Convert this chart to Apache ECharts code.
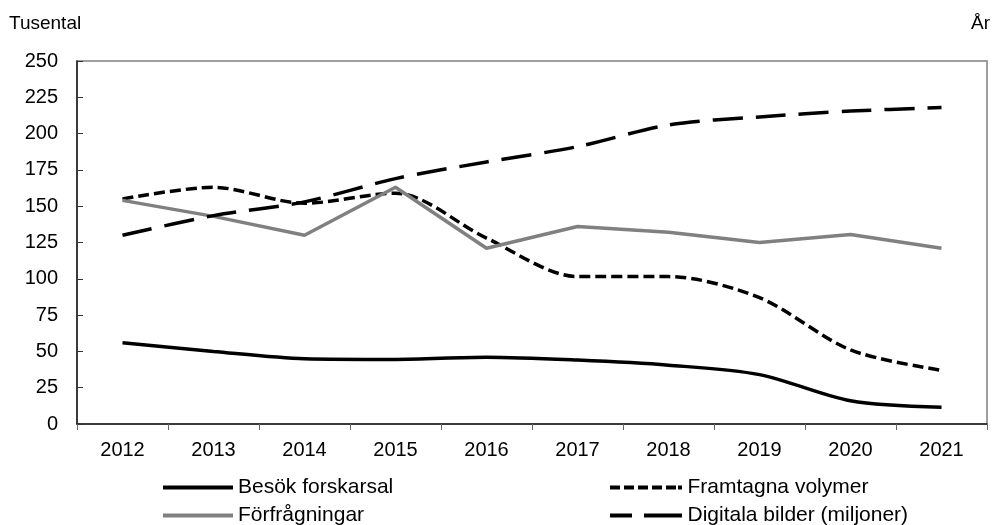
<!DOCTYPE html>
<html>
<head>
<meta charset="utf-8">
<script src="https://cdn.jsdelivr.net/npm/echarts@6/dist/echarts.min.js"></script>
<style>
html,body{margin:0;padding:0;background:#fff;}
#c{width:992px;height:525px;}
</style>
</head>
<body>
<div id="c"></div>
<script>
const years = ['2012','2013','2014','2015','2016','2017','2018','2019','2020','2021'];
const besok = [56, 50, 45, 44.5, 46, 44, 40.5, 34, 16, 11.5];
const framtagna = [155, 163, 152, 159, 128, 101.5, 101.5, 87, 51, 37];
const forfragningar = [154, 143, 130, 163, 121, 136, 132, 125, 130.5, 121];
const digitala = [130, 143.5, 153, 169, 180.5, 191, 206, 211.5, 215.5, 218];
const yTicks = [0, 25, 50, 75, 100, 125, 150, 175, 200, 225, 250];
const seriesNames = ['Besök forskarsal', 'Framtagna volymer', 'Förfrågningar', 'Digitala bilder (miljoner)'];

const FONT = 'Liberation Sans, Arial, sans-serif';
const ICON_SOLID = 'path://M0,0h72v4h-72z';
const ICON_SHORT = 'path://M0,0h10v4h-10zM14,0h10v4h-10zM28,0h10v4h-10zM42,0h10v4h-10zM56,0h10v4h-10zM68,0h4v4h-4z';
const ICON_LONG = 'path://M0,0h22v4h-22zM34,0h38v4h-38z';

function leg(name, left, top, w, icon, color) {
  return {
    data: [{name: name, icon: icon, itemStyle: {color: color}}],
    left: left, top: top, orient: 'horizontal', padding: 0,
    itemWidth: w, itemHeight: 4, itemGap: 5,
    textStyle: {fontSize: 21, fontFamily: FONT, color: '#000', lineHeight: 20}
  };
}

const chart = echarts.init(document.getElementById('c'), null, {renderer: 'canvas'});
chart.setOption({
  animation: false,
  backgroundColor: '#fff',
  textStyle: {fontFamily: FONT, color: '#000'},
  grid: {left: 77, right: 5, top: 61, bottom: 101, show: true, borderColor: '#808080', borderWidth: 1.5},
  graphic: [
    {type: 'text', left: 9, top: 14, style: {text: 'Tusental', font: '19px ' + FONT, fill: '#000'}},
    {type: 'text', right: 2, top: 14, style: {text: 'År', font: '19px ' + FONT, fill: '#000'}}
  ],
  xAxis: {
    type: 'category', data: years, boundaryGap: true,
    axisLine: {lineStyle: {color: '#1a1a1a', width: 1.5}},
    axisTick: {show: true, inside: false, length: 6, lineStyle: {color: '#666'}},
    axisLabel: {fontSize: 20, fontFamily: FONT, color: '#000', margin: 16}
  },
  yAxis: {
    type: 'value', min: yTicks[0], max: yTicks[yTicks.length - 1], interval: 25,
    axisLine: {show: true, lineStyle: {color: '#1a1a1a', width: 1.5}},
    axisTick: {show: true, inside: true, length: 6, lineStyle: {color: '#333'}},
    splitLine: {show: false},
    axisLabel: {fontSize: 20, fontFamily: FONT, color: '#000', margin: 19}
  },
  legend: [
    leg(seriesNames[0], 163, 477, 70, ICON_SOLID, '#000'),
    leg(seriesNames[2], 163, 505, 70, ICON_SOLID, '#808080'),
    leg(seriesNames[1], 610, 477, 73, ICON_SHORT, '#000'),
    leg(seriesNames[3], 610, 505, 73, ICON_LONG, '#000')
  ],
  series: [
    {name: seriesNames[0], type: 'line', data: besok, smooth: 0.3, symbol: 'none',
     lineStyle: {color: '#000', width: 3.5}, itemStyle: {color: '#000'}},
    {name: seriesNames[1], type: 'line', data: framtagna, smooth: 0.3, symbol: 'none',
     lineStyle: {color: '#000', width: 3.5, type: [11, 5]}, itemStyle: {color: '#000'}},
    {name: seriesNames[2], type: 'line', data: forfragningar, smooth: false, symbol: 'none',
     lineStyle: {color: '#808080', width: 3.5}, itemStyle: {color: '#808080'}},
    {name: seriesNames[3], type: 'line', data: digitala, smooth: 0.3, symbol: 'none',
     lineStyle: {color: '#000', width: 3.5, type: [30, 13]}, itemStyle: {color: '#000'}}
  ]
});
</script>
</body>
</html>
